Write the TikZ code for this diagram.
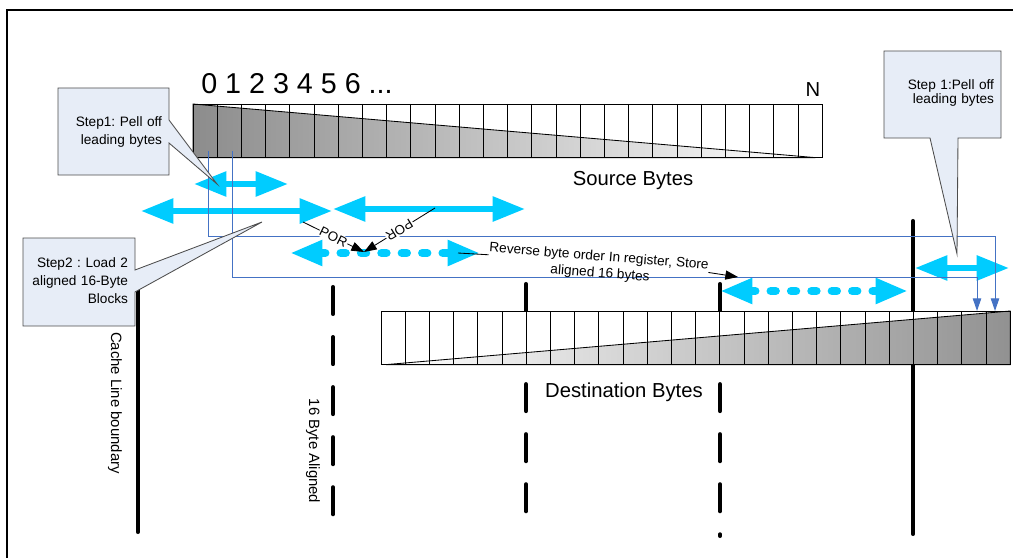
\documentclass[tikz,border=0pt]{standalone}
\usepackage{fontspec}
\setmainfont{Liberation Sans}
\usetikzlibrary{positioning,arrows.meta,calc}
\definecolor{skycyan}{RGB}{0,204,255}
\definecolor{guideblue}{RGB}{68,114,196}
\definecolor{notefill}{RGB}{231,237,247}
\frenchspacing

\begin{document}
\begin{tikzpicture}[x=0.025cm, y=-0.025cm,
  band/.style={minimum width=15.725cm, minimum height=1.34cm, inner sep=0pt, outer sep=0pt},
  cell/.style={line width=0.6pt},
  big/.style={font=\fontsize{14.4}{16}\selectfont, inner sep=0pt},
  small/.style={font=\fontsize{9.7}{12.2}\selectfont},
  vlbl/.style={rotate=-90, inner sep=0pt, font=\fontsize{10.6}{12}\selectfont},
  notebox/.style={draw=black!70, fill=notefill, line width=0.6pt, line join=miter},
  notetext/.style={align=right, inner sep=0pt, font=\fontsize{9.7}{12.8}\selectfont},
  cyanarr/.style={draw=skycyan, line width=4.3pt,
    {Triangle[length=23pt,width=17pt]}-{Triangle[length=23pt,width=17pt]}},
  cyandash/.style={cyanarr, line width=6pt, line cap=round, dash pattern=on 3.5pt off 11pt},
  guide/.style={draw=guideblue, line width=0.7pt, -{Triangle[length=9pt,width=6pt]}},
  annarr/.style={draw=black, line width=0.6pt, -{Triangle[length=9pt,width=6.5pt]}},
  porlbl/.style={sloped, fill=white, inner sep=0.6pt, font=\fontsize{9.5}{11}\selectfont},
  cacheline/.style={line width=2.9pt, line cap=round},
  alignline/.style={cacheline, dash pattern=on 19.2pt off 16.4pt}
]
\useasboundingbox (0,0) rectangle (1013,558);
\draw[line width=1.6pt] (7,558) -- (7,10) -- (1013,10);

\node[band, anchor=north west] (src) at (193,104) {};
\draw[left color=black!45, right color=white, line width=0.6pt]
  (src.north west) -- ($(src.south west)!0.989!(src.south east)$) -- (src.south west) -- cycle;
\foreach \i in {1,...,25}
  \draw[cell] ($(src.north west)!\i/26!(src.north east)$) -- ($(src.south west)!\i/26!(src.south east)$);
\draw[cell] (src.north west) rectangle (src.south east);
\node[anchor=base west, inner sep=0pt, font=\fontsize{20.4}{22}\selectfont] (idx) at (201,94) {0 1 2 3 4 5 6 ...};
\node[big, anchor=base] (nlbl) at (813,97) {N};
\node[big, anchor=base] (srclbl) at (633,185) {Source Bytes};

\coordinate (v1t) at (138,290); \coordinate (v1b) at (138,532);
\coordinate (v2t) at (333,287); \coordinate (v2b) at (333,515);
\coordinate (v3t) at (526,284); \coordinate (v3b) at (526,515);
\coordinate (v4t) at (720,284); \coordinate (v4b) at (720,536);
\coordinate (v5t) at (913,221); \coordinate (v5b) at (913,534);
\draw[cacheline] (v1t) -- (v1b);
\draw[alignline] (v2t) -- (v2b);
\draw[alignline] (v3t) -- (v3b);
\draw[alignline] (v4t) -- (v4b);
\draw[cacheline] (v5t) -- (v5b);
\node[vlbl] (cachelbl) at (115,403) {Cache Line boundary};
\node[vlbl] (alignlbl) at (313,451) {16 Byte Aligned};

\node[band, anchor=north west, fill=white] (dst) at (381,311) {};
\draw[left color=white, right color=black!43, line width=0.6pt]
  ($(dst.south west)!0.008!(dst.south east)$) -- (dst.north east) -- (dst.south east) -- cycle;
\foreach \i in {1,...,25}
  \draw[cell] ($(dst.north west)!\i/26!(dst.north east)$) -- ($(dst.south west)!\i/26!(dst.south east)$);
\draw[cell] (dst.north west) rectangle (dst.south east);
\node[big, anchor=base] (dstlbl) at (624,397) {Destination Bytes};

\coordinate (a1l) at (194,184); \coordinate (a1r) at (288,184);
\coordinate (a2l) at (141,211); \coordinate (a2r) at (332,211);
\coordinate (a3l) at (333,209); \coordinate (a3r) at (525,209);
\coordinate (a4l) at (290,253); \coordinate (a4r) at (480,253);
\coordinate (a5l) at (720,291); \coordinate (a5r) at (908,291);
\coordinate (a6l) at (915,268); \coordinate (a6r) at (1009,268);
\draw[cyanarr] (a1l) -- (a1r);
\draw[cyanarr] (a2l) -- (a2r);
\draw[cyanarr] (a3l) -- (a3r);
\draw[cyandash] (a4l) -- (a4r);
\draw[cyandash] (a5l) -- (a5r);
\draw[cyanarr] (a6l) -- (a6r);

\coordinate (b1s) at (208,151); \coordinate (b1k) at (995,236); \coordinate (b1e) at (995,311);
\coordinate (b2s) at (232,151); \coordinate (b2k) at (977,277); \coordinate (b2e) at (977,311);
\draw[guide] (b1s) |- (b1k) -- (b1e);
\draw[guide] (b2s) |- (b2k) -- (b2e);

\coordinate (por1s) at (303,222);
\coordinate (por2s) at (435,208);
\coordinate (hub) at (364,252);
\draw[annarr] (por1s) -- node[porlbl, pos=0.5] {POR} (hub);
\draw[annarr] (por2s) -- node[porlbl, pos=0.5, allow upside down] {POR} (hub);

\node[small, rotate=-4.6, inner sep=0pt] (revtop) at (599,257) {Reverse byte order In register, Store};
\node[small, rotate=-4.3, inner sep=0pt] (revbot) at (600,274) {aligned 16 bytes};
\coordinate (lead1) at (458,253);
\coordinate (lead2) at (738,277);
\draw[line width=0.6pt] (revtop.south west) -- (lead1);
\draw[annarr] (revtop.south east) -- (lead2);

\coordinate (tip1) at (217,184);
\coordinate (tip2) at (262,222);
\coordinate (tip3) at (957,254);
\filldraw[notebox] (58,88) -- (169,88) -- (169,120) -- (tip1) -- (169,143) -- (169,175) -- (58,175) -- cycle;
\node[notetext, text width=2.425cm] (step1) at (113.5,131.5) {Step1: Pell off\\leading bytes};
\filldraw[notebox] (23,238) -- (135,238) -- (135,270) -- (tip2) -- (135,292) -- (135,326) -- (23,326) -- cycle;
\node[notetext, text width=2.45cm] (step2) at (79,281) {Step2 : Load 2\\aligned 16-Byte\\Blocks};
\filldraw[notebox] (884,51) -- (1001,51) -- (1001,138) -- (958,138) -- (tip3) -- (930,138) -- (884,138) -- cycle;
\node[notetext, text width=2.575cm, font=\fontsize{9.7}{10.2}\selectfont] (step3) at (942.5,93)
  {Step 1:Pell off\\leading bytes};
\end{tikzpicture}
\end{document}
